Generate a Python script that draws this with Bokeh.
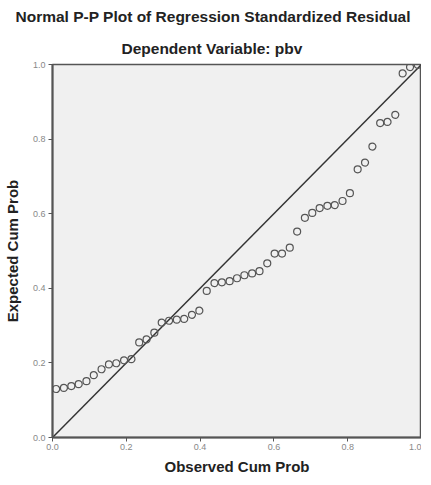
from bokeh.plotting import figure
from bokeh.models import Title, Range1d, FixedTicker, NumeralTickFormatter
from bokeh.embed import file_html
from bokeh.resources import INLINE

# Observed cumulative probability (x) and expected cumulative probability (y)
observed = [0.010, 0.031, 0.051, 0.071, 0.092, 0.112, 0.133, 0.153, 0.173, 0.194,
            0.214, 0.235, 0.255, 0.276, 0.296, 0.316, 0.337, 0.357, 0.378, 0.398,
            0.418, 0.439, 0.459, 0.480, 0.500, 0.520, 0.541, 0.561, 0.582, 0.602,
            0.622, 0.643, 0.663, 0.684, 0.704, 0.724, 0.745, 0.765, 0.786, 0.806,
            0.827, 0.847, 0.867, 0.888, 0.908, 0.929, 0.949, 0.969, 0.990]
expected = [0.130, 0.133, 0.138, 0.143, 0.151, 0.167, 0.183, 0.196, 0.199, 0.207,
            0.210, 0.255, 0.263, 0.281, 0.308, 0.313, 0.316, 0.318, 0.329, 0.340,
            0.393, 0.414, 0.416, 0.419, 0.427, 0.435, 0.440, 0.446, 0.467, 0.493,
            0.493, 0.509, 0.552, 0.589, 0.602, 0.615, 0.621, 0.623, 0.634, 0.655,
            0.719, 0.737, 0.780, 0.843, 0.846, 0.865, 0.976, 0.993, 0.999]
diag_x = [0.0, 1.0]
diag_y = [0.0, 1.0]
ticks = [0.0, 0.2, 0.4, 0.6, 0.8, 1.0]

title_text = "Normal P-P Plot of Regression Standardized Residual"
subtitle_text = "Dependent Variable: pbv"

p = figure(frame_width=369, frame_height=373, output_backend="svg", toolbar_location=None,
           x_range=Range1d(0, 1), y_range=Range1d(0, 1),
           min_border_left=46, min_border_right=0, min_border_top=56, min_border_bottom=36)

p.background_fill_color = "#f0f0f0"
p.border_fill_color = "white"
p.outline_line_color = "#555555"
p.outline_line_width = 1.5
p.xgrid.visible = False
p.ygrid.visible = False

for ax in (p.xaxis[0], p.yaxis[0]):
    ax.ticker = FixedTicker(ticks=ticks)
    ax.formatter = NumeralTickFormatter(format="0.0")
    ax.minor_tick_line_color = None
    ax.major_tick_in = 0
    ax.major_tick_out = 4
    ax.major_tick_line_color = "#555555"
    ax.axis_line_color = "#555555"
    ax.axis_line_width = 2
    ax.major_label_text_font = "Liberation Sans"
    ax.major_label_text_font_size = "9px"
    ax.major_label_text_color = "#888888"
    ax.axis_label_text_font = "Liberation Sans"
    ax.axis_label_text_font_style = "bold"
    ax.axis_label_text_font_size = "15px"
    ax.axis_label_text_color = "#222222"

p.xaxis.axis_label = "Observed Cum Prob"
p.yaxis.axis_label = "Expected Cum Prob"
p.xaxis.major_label_standoff = 2
p.yaxis.major_label_standoff = 3
p.xaxis.axis_label_standoff = 5
p.yaxis.axis_label_standoff = 9

p.line(diag_x, diag_y, line_color="#333333", line_width=1.5)
p.scatter(observed, expected, marker="circle", size=7, fill_color=None,
          line_color="#555555", line_width=1.2)

p.title.text = title_text
p.title.align = "left"
p.title.offset = -37
p.title.text_font = "Liberation Sans"
p.title.text_font_style = "bold"
p.title.text_font_size = "15.5px"
p.title.text_color = "#222222"

sub = Title(text=subtitle_text, align="left", offset=69, text_font="Liberation Sans",
            text_font_style="bold", text_font_size="15.5px", text_color="#222222",
            standoff=16)
p.add_layout(sub, "above")

open("out.html", "w").write(file_html(p, INLINE))
